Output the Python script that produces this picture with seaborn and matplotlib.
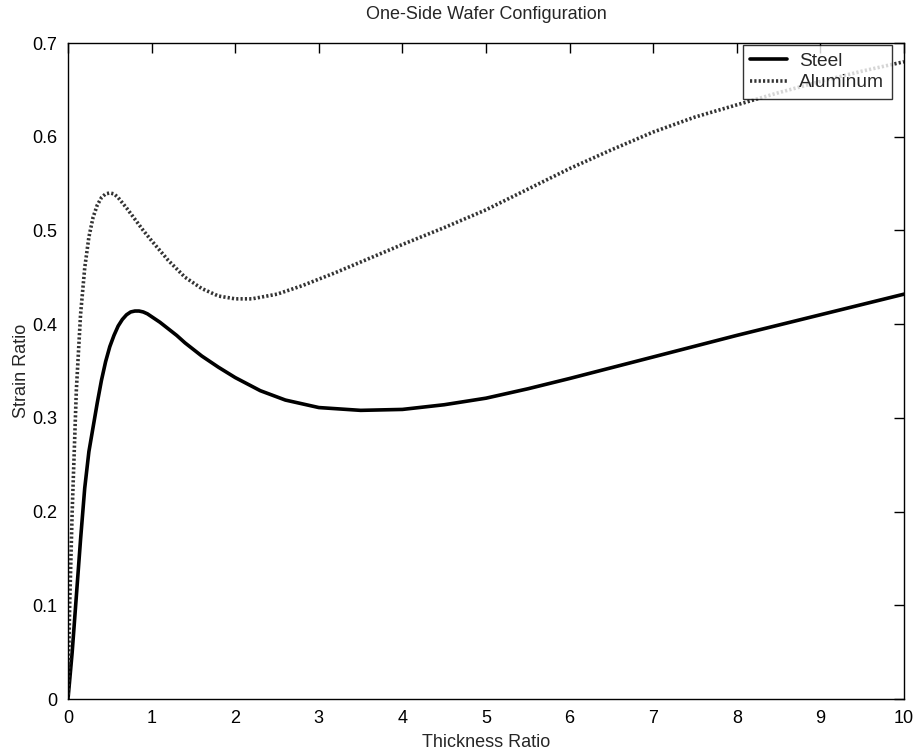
import numpy as np
import pandas as pd
import matplotlib
matplotlib.use("Agg")
import matplotlib.pyplot as plt
import seaborn as sns

# Data
steel_x = [0, 0.05, 0.1, 0.15, 0.2, 0.25, 0.3, 0.35, 0.4, 0.45, 0.5, 0.55, 0.6, 0.65,
           0.7, 0.75, 0.8, 0.85, 0.9, 0.95, 1.0, 1.1, 1.2, 1.3, 1.4, 1.6, 1.8, 2.0,
           2.3, 2.6, 3.0, 3.5, 4.0, 4.5, 5.0, 5.5, 6.0, 7.0, 8.0, 9.0, 10.0]
steel_y = [0, 0.05, 0.11, 0.17, 0.225, 0.264, 0.290, 0.316, 0.340, 0.360, 0.376,
           0.388, 0.398, 0.405, 0.410, 0.413, 0.414, 0.414, 0.413, 0.411, 0.408,
           0.402, 0.395, 0.388, 0.380, 0.366, 0.354, 0.343, 0.329, 0.319, 0.311,
           0.308, 0.309, 0.314, 0.321, 0.331, 0.342, 0.365, 0.388, 0.410, 0.432]

alu_x = [0, 0.02, 0.05, 0.1, 0.15, 0.2, 0.25, 0.3, 0.35, 0.4, 0.45, 0.5, 0.55, 0.6,
         0.7, 0.8, 0.9, 1.0, 1.2, 1.4, 1.6, 1.8, 2.0, 2.2, 2.5, 2.8, 3.2, 3.6,
         4.0, 4.5, 5.0, 5.5, 6.0, 6.5, 7.0, 7.5, 8.0, 8.5, 9.0, 9.5, 10.0]
alu_y = [0, 0.1, 0.2, 0.33, 0.41, 0.46, 0.493, 0.514, 0.527, 0.535, 0.539, 0.540,
         0.539, 0.535, 0.524, 0.512, 0.500, 0.489, 0.468, 0.450, 0.438, 0.430,
         0.427, 0.427, 0.432, 0.441, 0.455, 0.470, 0.485, 0.503, 0.522, 0.544,
         0.566, 0.586, 0.605, 0.621, 0.634, 0.647, 0.659, 0.670, 0.680]

x_ticks = list(range(0, 11))
y_ticks = [0, 0.1, 0.2, 0.3, 0.4, 0.5, 0.6, 0.7]
y_tick_labels = ["0", "0.1", "0.2", "0.3", "0.4", "0.5", "0.6", "0.7"]

df = pd.concat([
    pd.DataFrame({"x": steel_x, "y": steel_y, "Material": "Steel"}),
    pd.DataFrame({"x": alu_x, "y": alu_y, "Material": "Aluminum"}),
], ignore_index=True)

sns.set_style("white")
plt.rcParams["font.family"] = ["Liberation Sans", "DejaVu Sans"]
plt.rcParams["xtick.direction"] = "in"
plt.rcParams["ytick.direction"] = "in"
plt.rcParams["lines.solid_joinstyle"] = "round"

fig = plt.figure(figsize=(9.2, 7.51), dpi=100)
ax = fig.add_axes([68 / 920, 1 - 699 / 751, (904 - 68) / 920, (699 - 43) / 751])

sns.lineplot(data=df, x="x", y="y", hue="Material", style="Material",
             palette={"Steel": "black", "Aluminum": "#333333"},
             dashes={"Steel": "", "Aluminum": (0.6, 0.6)},
             linewidth=2.6, sort=False, estimator=None, ax=ax)

ax.set_xlim(0, 10)
ax.set_ylim(0, 0.7)
ax.set_xticks(x_ticks)
ax.set_xticklabels([str(t) for t in x_ticks])
ax.set_yticks(y_ticks)
ax.set_yticklabels(y_tick_labels)
ax.tick_params(axis="both", which="both", direction="in", top=True, right=True,
               length=7, width=1, labelsize=13, colors="black", pad=8)
for s in ax.spines.values():
    s.set_visible(True)
    s.set_color("black")
    s.set_linewidth(1)

ax.set_xlabel("Thickness Ratio", fontsize=13, labelpad=5)
ax.set_ylabel("Strain Ratio", fontsize=13, labelpad=1)
ax.set_title("One-Side Wafer Configuration", fontsize=13, pad=17)

leg = ax.legend(loc="upper right", bbox_to_anchor=(0.9856, 0.997), frameon=True,
                fancybox=False, fontsize=13.8, handlelength=1.9, borderpad=0.4,
                labelspacing=0.2, borderaxespad=0.0, handletextpad=0.65)
leg.get_frame().set_edgecolor("black")
leg.get_frame().set_linewidth(1)
for h in leg.get_lines():
    h.set_linewidth(2.6)

fig.savefig("out.png", dpi=100)
